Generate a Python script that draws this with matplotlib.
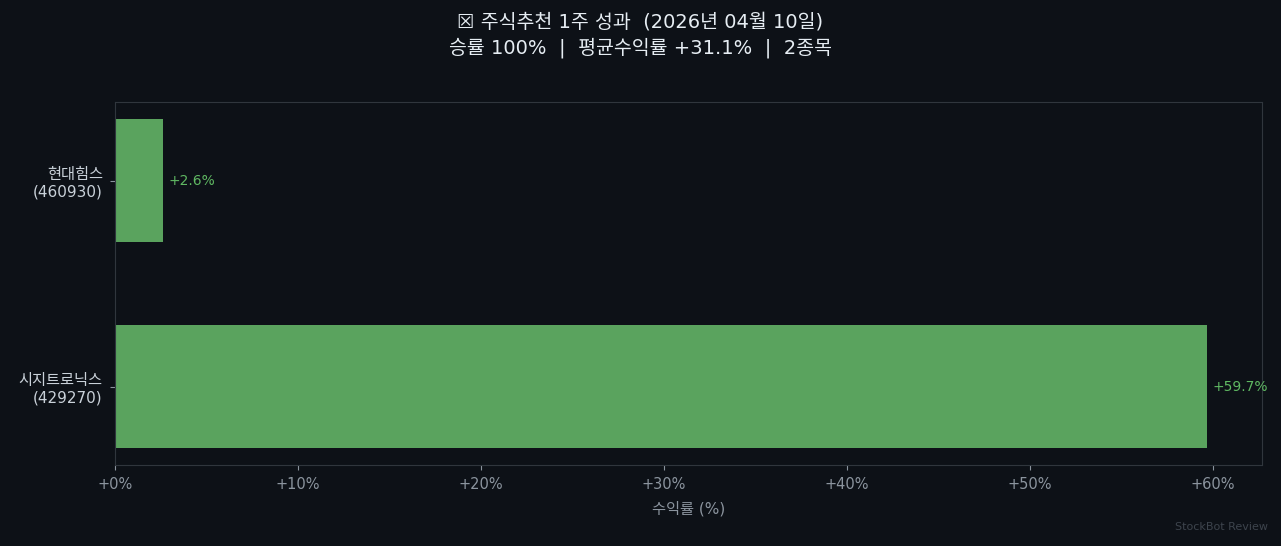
import matplotlib
matplotlib.use("Agg")
import matplotlib.pyplot as plt
from matplotlib.ticker import FuncFormatter

plt.rcParams['font.family'] = ['DejaVu Sans', 'Noto Sans CJK KR']

names = ["시지트로닉스\n(429270)", "현대힘스\n(460930)"]
returns = [59.7, 2.6]
title_line1 = "☒ 주식추천 1주 성과  (2026년 04월 10일)"
title_line2 = "승률 100%  |  평균수익률 +31.1%  |  2종목"
xticks = [0, 10, 20, 30, 40, 50, 60]

BG = "#0d1117"
fig = plt.figure(figsize=(12.81, 5.46), dpi=100, facecolor=BG)
ax = fig.add_axes([0.09, 0.1484, 0.895, 0.6642], facecolor=BG)

ypos = list(range(len(names)))
ax.barh(ypos, returns, height=0.6, color="#5aa35e")
for y, v in zip(ypos, returns):
    ax.text(v + 0.3, y, f"+{v:.1f}%", va="center", ha="left",
            color="#5fb862", fontsize=10)

ax.set_yticks(ypos)
ax.set_yticklabels(names, color="#c9d1d9", fontsize=11)
ax.set_xticks(xticks)
ax.xaxis.set_major_formatter(FuncFormatter(lambda x, p: f"+{x:.0f}%"))
ax.set_xlim(0, max(returns) * 1.05)
ax.tick_params(axis="x", colors="#8b949e", labelsize=10.5, pad=5.5)
ax.tick_params(axis="y", colors="#8b949e", labelcolor="#c9d1d9", pad=5.5)
for s in ax.spines.values():
    s.set_color("#30363d")
ax.set_xlabel("수익률 (%)", color="#8b949e", fontsize=11, labelpad=6)

fig.text(0.5, 0.977, title_line1 + "\n" + title_line2, ha="center", va="top",
         color="#e6edf3", fontsize=14, linespacing=1.38)
fig.text(0.99, 0.025, "StockBot Review", ha="right", va="bottom",
         color="#3d444d", fontsize=8)

fig.savefig("out.png", dpi=100, facecolor=BG)
